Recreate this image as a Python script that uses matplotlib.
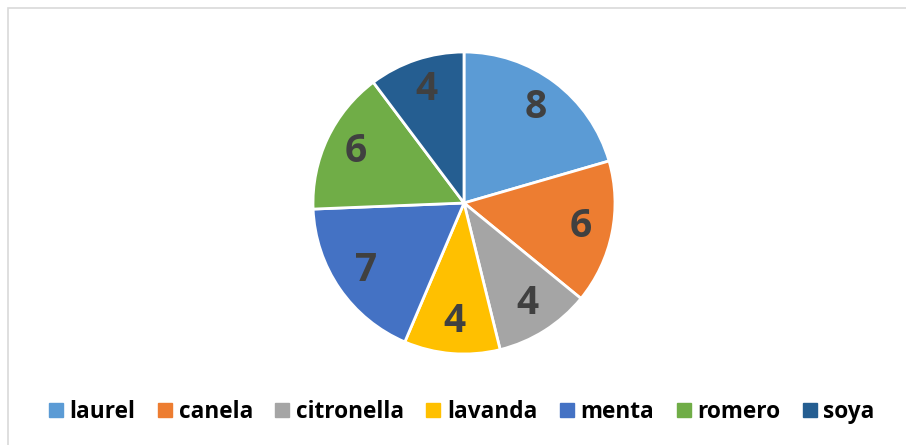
import matplotlib
matplotlib.use("Agg")
import matplotlib.pyplot as plt
from matplotlib.lines import Line2D
from matplotlib.patches import Rectangle

categories = ["laurel", "canela", "citronella", "lavanda", "menta", "romero", "soya"]
values = [8, 6, 4, 4, 7, 6, 4]
colors = ["#5B9BD5", "#ED7D31", "#A5A5A5", "#FFC000", "#4472C4", "#70AD47", "#255E91"]

plt.rcParams['font.family'] = ['Open Sans', 'DejaVu Sans']

fig = plt.figure(figsize=(9.06, 4.45), dpi=100)
fig.patch.set_facecolor("white")

# chart border (top & left visible, right & bottom run off canvas)
W, H = 906, 445
fig.add_artist(Rectangle((8 / W, -0.05), 1.2, (H - 8) / H + 0.05, transform=fig.transFigure,
                         fill=False, edgecolor="#D9D9D9", linewidth=1.2))

cx, cy, r = 464, 203, 151
ax = fig.add_axes([(cx - r) / W, (H - cy - r) / H, 2 * r / W, 2 * r / H])
wedges, texts = ax.pie(values, colors=colors, startangle=90, counterclock=False,
                       labels=[str(v) for v in values], labeldistance=0.79,
                       wedgeprops=dict(edgecolor="white", linewidth=2.0),
                       textprops=dict(fontsize=28, fontweight="bold", color="#404040",
                                      ha="center", va="center"))
ax.set_aspect("equal")
ax.set_xlim(-1, 1)
ax.set_ylim(-1, 1)

handles = [Line2D([0], [0], marker="s", linestyle="none", markersize=10,
                  markerfacecolor=c, markeredgecolor=c) for c in colors]
fig.legend(handles, categories, loc="center", bbox_to_anchor=(0.508, (H - 412) / H),
           ncol=7, frameon=False, prop=dict(size=16.3, weight="bold"),
           handletextpad=0.15, columnspacing=0.85, handlelength=0.9)

fig.savefig("out.png", dpi=100, facecolor="white")
